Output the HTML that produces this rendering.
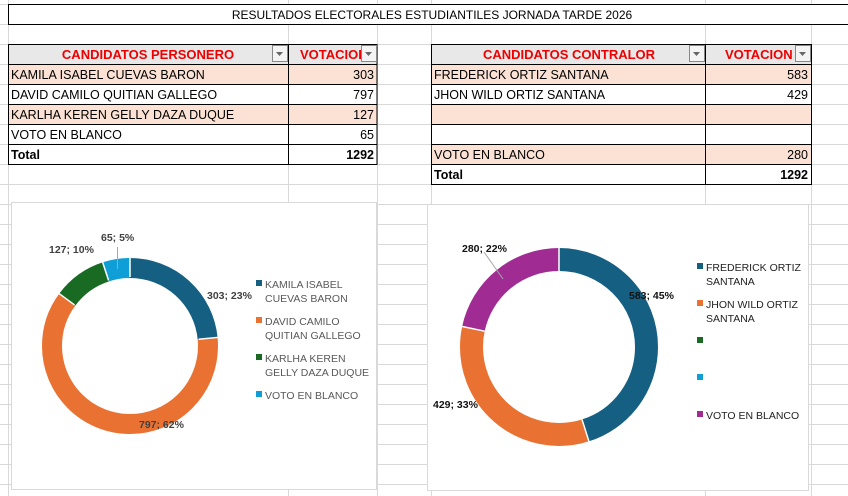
<!DOCTYPE html>
<html><head><meta charset="utf-8"><style>
body{margin:0;background:#fff;}
svg{display:block;font-family:"Liberation Sans",sans-serif;}
.t{font-size:12.5px;fill:#000}
.h{font-size:13px;fill:#ee0000;font-weight:bold}
.lg{font-size:10.5px;fill:#595959}
.lb{font-size:10.5px;font-weight:bold;fill:#404040}
.lb2{font-size:10.5px;font-weight:bold;fill:#111}
</style></head><body>
<svg width="848" height="496" viewBox="0 0 848 496">
<g stroke="#d9d9d9" stroke-width="1">
<line x1="0" y1="4.5" x2="848" y2="4.5"/><line x1="0" y1="24.5" x2="848" y2="24.5"/><line x1="0" y1="44.5" x2="848" y2="44.5"/><line x1="0" y1="64.5" x2="848" y2="64.5"/><line x1="0" y1="84.5" x2="848" y2="84.5"/><line x1="0" y1="104.5" x2="848" y2="104.5"/><line x1="0" y1="124.5" x2="848" y2="124.5"/><line x1="0" y1="144.5" x2="848" y2="144.5"/><line x1="0" y1="164.5" x2="848" y2="164.5"/><line x1="0" y1="184.5" x2="848" y2="184.5"/><line x1="0" y1="204.5" x2="848" y2="204.5"/><line x1="0" y1="224.5" x2="848" y2="224.5"/><line x1="0" y1="244.5" x2="848" y2="244.5"/><line x1="0" y1="264.5" x2="848" y2="264.5"/><line x1="0" y1="284.5" x2="848" y2="284.5"/><line x1="0" y1="304.5" x2="848" y2="304.5"/><line x1="0" y1="324.5" x2="848" y2="324.5"/><line x1="0" y1="344.5" x2="848" y2="344.5"/><line x1="0" y1="364.5" x2="848" y2="364.5"/><line x1="0" y1="384.5" x2="848" y2="384.5"/><line x1="0" y1="404.5" x2="848" y2="404.5"/><line x1="0" y1="424.5" x2="848" y2="424.5"/><line x1="0" y1="444.5" x2="848" y2="444.5"/><line x1="0" y1="464.5" x2="848" y2="464.5"/><line x1="0" y1="484.5" x2="848" y2="484.5"/>
<line x1="8.5" y1="0" x2="8.5" y2="496"/><line x1="288.5" y1="0" x2="288.5" y2="496"/><line x1="377.5" y1="0" x2="377.5" y2="496"/><line x1="431.5" y1="0" x2="431.5" y2="496"/><line x1="705.5" y1="0" x2="705.5" y2="496"/><line x1="811.5" y1="0" x2="811.5" y2="496"/>
</g>
<!-- title -->
<rect x="8.5" y="4.5" width="840" height="20" fill="#fff" stroke="#000"/>
<text x="432" y="19" class="t" text-anchor="middle" style="font-size:12px">RESULTADOS ELECTORALES ESTUDIANTILES JORNADA TARDE 2026</text>
<!-- left table -->
<rect x="8.5" y="44.5" width="368.5" height="20" fill="#e8e8e8"/>
<rect x="8.5" y="64.5" width="368.5" height="20" fill="#fbe2d5"/>
<rect x="8.5" y="104.5" width="368.5" height="20" fill="#fbe2d5"/>
<g stroke="#000" fill="none">
<rect x="8.5" y="44.5" width="368.5" height="120"/>
<line x1="8" y1="64.5" x2="377" y2="64.5"/><line x1="8" y1="84.5" x2="377" y2="84.5"/><line x1="8" y1="104.5" x2="377" y2="104.5"/><line x1="8" y1="124.5" x2="377" y2="124.5"/><line x1="8" y1="144.5" x2="377" y2="144.5"/>
<line x1="288.5" y1="44" x2="288.5" y2="165"/>
</g>
<text x="148" y="59" class="h" text-anchor="middle">CANDIDATOS PERSONERO</text>
<text x="300" y="59" class="h">VOTACIOI</text>
<rect x="272.5" y="45.5" width="15" height="16" fill="#f4f4f4" stroke="#888"/><path d="M276 52l3.5 4 3.5-4z" fill="#666"/>
<rect x="361.5" y="45.5" width="15" height="16" fill="#f4f4f4" stroke="#888"/><path d="M365 52l3.5 4 3.5-4z" fill="#666"/>
<text x="11" y="79" class="t">KAMILA ISABEL CUEVAS BARON</text><text x="374" y="79" class="t" text-anchor="end">303</text>
<text x="11" y="99" class="t">DAVID CAMILO QUITIAN GALLEGO</text><text x="374" y="99" class="t" text-anchor="end">797</text>
<text x="11" y="119" class="t">KARLHA KEREN GELLY DAZA DUQUE</text><text x="374" y="119" class="t" text-anchor="end">127</text>
<text x="11" y="139" class="t">VOTO EN BLANCO</text><text x="374" y="139" class="t" text-anchor="end">65</text>
<text x="11" y="159" class="t" font-weight="bold">Total</text><text x="374" y="159" class="t" font-weight="bold" text-anchor="end">1292</text>
<!-- right table -->
<rect x="431.5" y="44.5" width="380" height="20" fill="#e8e8e8"/>
<rect x="431.5" y="64.5" width="380" height="20" fill="#fbe2d5"/>
<rect x="431.5" y="104.5" width="380" height="20" fill="#fbe2d5"/>
<rect x="431.5" y="144.5" width="380" height="20" fill="#fbe2d5"/>
<g stroke="#000" fill="none">
<rect x="431.5" y="44.5" width="380" height="140"/>
<line x1="431" y1="64.5" x2="812" y2="64.5"/><line x1="431" y1="84.5" x2="812" y2="84.5"/><line x1="431" y1="104.5" x2="812" y2="104.5"/><line x1="431" y1="124.5" x2="812" y2="124.5"/><line x1="431" y1="144.5" x2="812" y2="144.5"/><line x1="431" y1="164.5" x2="812" y2="164.5"/>
<line x1="705.5" y1="44" x2="705.5" y2="185"/>
</g>
<text x="569" y="59" class="h" text-anchor="middle">CANDIDATOS CONTRALOR</text>
<text x="725" y="59" class="h">VOTACION</text>
<rect x="689.5" y="45.5" width="15" height="16" fill="#f4f4f4" stroke="#888"/><path d="M693 52l3.5 4 3.5-4z" fill="#666"/>
<rect x="795.5" y="45.5" width="15" height="16" fill="#f4f4f4" stroke="#888"/><path d="M799 52l3.5 4 3.5-4z" fill="#666"/>
<text x="434" y="79" class="t">FREDERICK ORTIZ SANTANA</text><text x="808" y="79" class="t" text-anchor="end">583</text>
<text x="434" y="99" class="t">JHON WILD ORTIZ SANTANA</text><text x="808" y="99" class="t" text-anchor="end">429</text>
<text x="434" y="159" class="t">VOTO EN BLANCO</text><text x="808" y="159" class="t" text-anchor="end">280</text>
<text x="434" y="179" class="t" font-weight="bold">Total</text><text x="808" y="179" class="t" font-weight="bold" text-anchor="end">1292</text>
<!-- left chart -->
<rect x="11.5" y="202.5" width="365" height="287" fill="#fff" stroke="#d9d9d9"/>
<g fill="none" stroke-width="20" transform="rotate(-90 130 346)">
<circle cx="130" cy="346" r="78" stroke="#156082" stroke-dasharray="114.9 600" stroke-dashoffset="0"/>
<circle cx="130" cy="346" r="78" stroke="#e97132" stroke-dasharray="302.3 600" stroke-dashoffset="-114.9"/>
<circle cx="130" cy="346" r="78" stroke="#196b24" stroke-dasharray="48.2 600" stroke-dashoffset="-417.2"/>
<circle cx="130" cy="346" r="78" stroke="#0f9ed5" stroke-dasharray="24.6 600" stroke-dashoffset="-465.4"/>
</g>
<g stroke="#fff" stroke-width="1.5">
<line x1="130" y1="277" x2="130" y2="257" transform="rotate(0 130 346)"/>
<line x1="130" y1="277" x2="130" y2="257" transform="rotate(84.4 130 346)"/>
<line x1="130" y1="277" x2="130" y2="257" transform="rotate(306.5 130 346)"/>
<line x1="130" y1="277" x2="130" y2="257" transform="rotate(341.9 130 346)"/>
</g>
<line x1="117.5" y1="247" x2="117.5" y2="269" stroke="#a6a6a6"/>
<text x="207" y="299" class="lb">303; 23%</text>
<text x="139" y="428" class="lb">797; 62%</text>
<text x="49" y="253" class="lb">127; 10%</text>
<text x="101" y="241" class="lb">65; 5%</text>
<rect x="256" y="280" width="6" height="6" fill="#156082"/><text x="265" y="288" class="lg">KAMILA ISABEL</text><text x="265" y="302" class="lg">CUEVAS BARON</text>
<rect x="256" y="317" width="6" height="6" fill="#e97132"/><text x="265" y="325" class="lg">DAVID CAMILO</text><text x="265" y="339" class="lg">QUITIAN GALLEGO</text>
<rect x="256" y="354" width="6" height="6" fill="#196b24"/><text x="265" y="362" class="lg">KARLHA KEREN</text><text x="265" y="376" class="lg">GELLY DAZA DUQUE</text>
<rect x="256" y="391" width="6" height="6" fill="#0f9ed5"/><text x="265" y="399" class="lg">VOTO EN BLANCO</text>
<!-- right chart -->
<rect x="427.5" y="204.5" width="381" height="286" fill="#fff" stroke="#d9d9d9"/>
<g fill="none" stroke-width="23" transform="rotate(-90 559 347)">
<circle cx="559" cy="347" r="87.5" stroke="#156082" stroke-dasharray="248.1 700" stroke-dashoffset="0"/>
<circle cx="559" cy="347" r="87.5" stroke="#e97132" stroke-dasharray="182.6 700" stroke-dashoffset="-248.1"/>
<circle cx="559" cy="347" r="87.5" stroke="#a02b93" stroke-dasharray="119.2 700" stroke-dashoffset="-430.7"/>
</g>
<g stroke="#fff" stroke-width="1.5">
<line x1="559" y1="271" x2="559" y2="247"/>
<line x1="559" y1="271" x2="559" y2="247" transform="rotate(162.4 559 347)"/>
<line x1="559" y1="271" x2="559" y2="247" transform="rotate(282 559 347)"/>
</g>
<line x1="484" y1="252" x2="503" y2="279" stroke="#a6a6a6"/>
<text x="462" y="252" class="lb2">280; 22%</text>
<text x="629" y="299" class="lb2">583; 45%</text>
<text x="433" y="408" class="lb2">429; 33%</text>
<rect x="697" y="263" width="6" height="6" fill="#156082"/><text x="706" y="271" class="lg" style="fill:#222">FREDERICK ORTIZ</text><text x="706" y="285" class="lg" style="fill:#222">SANTANA</text>
<rect x="697" y="300" width="6" height="6" fill="#e97132"/><text x="706" y="308" class="lg" style="fill:#222">JHON WILD ORTIZ</text><text x="706" y="322" class="lg" style="fill:#222">SANTANA</text>
<rect x="697" y="337" width="6" height="6" fill="#196b24"/>
<rect x="697" y="374" width="6" height="6" fill="#0f9ed5"/>
<rect x="697" y="411" width="6" height="6" fill="#a02b93"/><text x="706" y="419" class="lg" style="fill:#222">VOTO EN BLANCO</text>
</svg>
</body></html>
